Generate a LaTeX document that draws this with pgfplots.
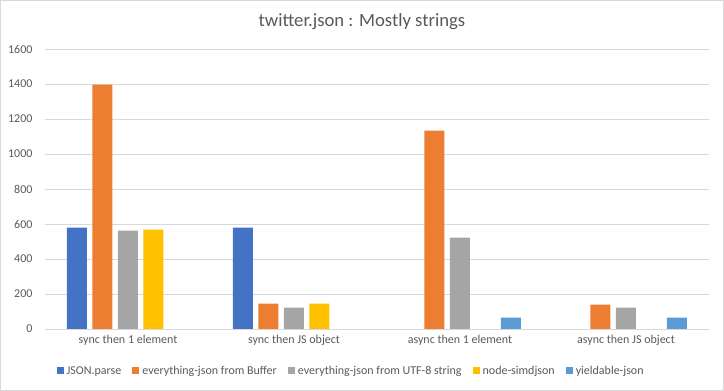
\documentclass[border=0pt]{standalone}
\usepackage{pgfplots}
\pgfplotsset{compat=1.18}
\usepackage{fontspec}
\setmainfont{Carlito}
\definecolor{cA}{HTML}{4472C4}
\definecolor{cB}{HTML}{ED7D31}
\definecolor{cC}{HTML}{A5A5A5}
\definecolor{cD}{HTML}{FFC000}
\definecolor{cE}{HTML}{5B9BD5}
\definecolor{txt}{HTML}{595959}
\definecolor{grid}{HTML}{D9D9D9}
\begin{document}
\begin{tikzpicture}[x=1pt,y=1pt]
\node[text=txt, font=\fontsize{18.67}{22}\selectfont] at (317,307.5) {twitter.json : Mostly strings};
\begin{axis}[
  at={(0,0)}, anchor=south west,
  scale only axis, width=664pt, height=280pt,
  ybar=5.5pt, bar width=20pt,
  xmin=-0.5, xmax=3.5, ymin=0, ymax=1600,
  xtick={0,1,2,3},
  xticklabels={sync then 1 element, sync then JS object, async then 1 element, async then JS object},
  ytick={0,200,...,1600},
  ymajorgrids, xmajorgrids=false,
  y grid style={grid, line width=0.8pt},
  separate axis lines,
  axis x line*=bottom, axis y line*=left,
  x axis line style={draw=grid, line width=0.8pt, -},
  y axis line style={draw=none},
  major tick style={draw=none},
  major tick length=0pt,
  tick label style={text=txt, font=\fontsize{12}{14}\selectfont},
  /pgf/number format/assume math mode=true,
  /pgf/number format/1000 sep={},
  yticklabel style={anchor=east, xshift=-9pt},
  xticklabel style={yshift=-3pt},
  legend columns=5,
  legend style={at={(axis description cs:0.461,-0.15)}, anchor=center, draw=none, fill=none,
    font=\fontsize{12}{14}\selectfont, text=txt,
    /tikz/every even column/.append style={column sep=9pt},
    /tikz/every odd column/.append style={column sep=1pt}},
  legend image code/.code={\fill[#1] (0pt,-3.5pt) rectangle (7pt,3.5pt);},
  every axis plot/.append style={draw=none},
]
\addplot[fill=cA] coordinates {(0,579) (1,579)};
\addplot[fill=cB] coordinates {(0,1396) (1,145) (2,1133) (3,139)};
\addplot[fill=cC] coordinates {(0,562) (1,122) (2,522) (3,122)};
\addplot[fill=cD] coordinates {(0,568) (1,145)};
\addplot[fill=cE] coordinates {(2,65) (3,65)};
\legend{JSON.parse, everything-json from Buffer, everything-json from UTF-8 string, node-simdjson, yieldable-json}
\end{axis}
\draw[grid, line width=0.8pt] (-44.5,-61.5) rectangle (678.5,328.5);
\pgfresetboundingbox
\useasboundingbox (-45,-62) rectangle (679,329);
\end{tikzpicture}
\end{document}
